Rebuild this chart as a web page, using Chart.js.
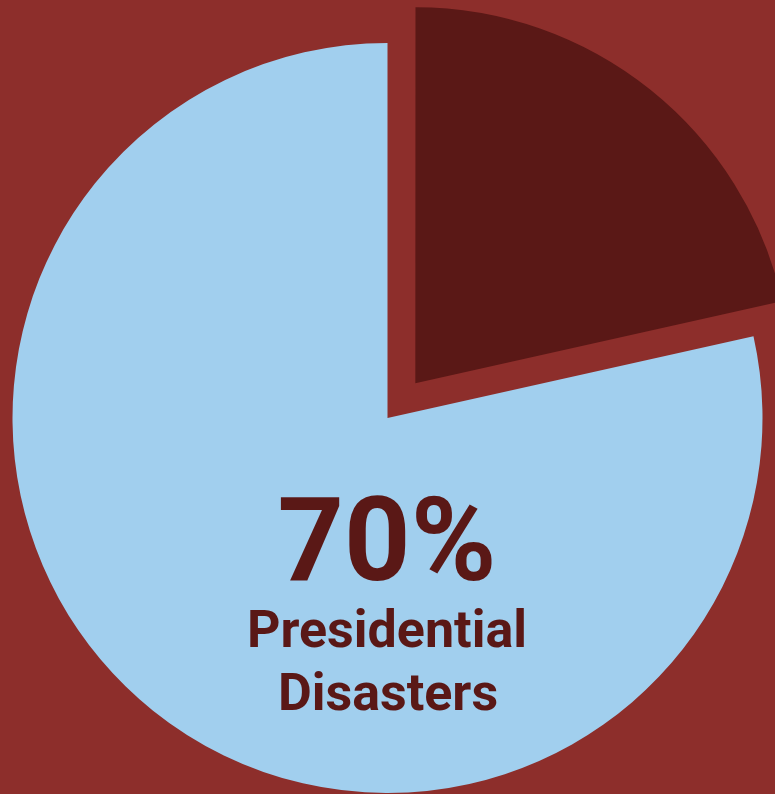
<!DOCTYPE html>
<html>
<head>
<meta charset="utf-8">
<title>Presidential Disasters</title>
<script src="https://cdn.jsdelivr.net/npm/chart.js@4.4.1/dist/chart.umd.min.js"></script>
<style>
  html, body {
    margin: 0;
    padding: 0;
    background: #8d2e2b;
  }
  #wrap {
    width: 775px;
    height: 794px;
    overflow: hidden;
  }
</style>
</head>
<body>
<div id="wrap">
  <canvas id="pieChart" width="775" height="794"></canvas>
</div>
<script>
// Data (slices start at 12 o'clock, clockwise)
const categories = ["Other", "Presidential Disasters"];
const shares = [21.5, 78.5];
const sliceColors = ["#5a1816", "#a1cfee"];
const sliceOffsets = [178, 0];

const bigLabel = "70%";
const subLabel = ["Presidential", "Disasters"];

// Centre text drawn on top of the pie
const centerText = {
  id: "centerText",
  afterDraw(chart) {
    const ctx = chart.ctx;
    ctx.save();
    ctx.fillStyle = "#5a1816";
    ctx.textAlign = "center";
    ctx.textBaseline = "alphabetic";
    ctx.font = "bold 116px Roboto";
    ctx.fillText(bigLabel, 387, 580);
    ctx.font = "bold 52px Roboto";
    ctx.fillText(subLabel[0], 387, 647);
    ctx.fillText(subLabel[1], 388, 710);
    ctx.restore();
  },
};

function initPieChart() {
  const canvas = document.getElementById("pieChart");
  return new Chart(canvas.getContext("2d"), {
    type: "pie",
    data: {
      labels: categories,
      datasets: [
        {
          data: shares,
          backgroundColor: sliceColors,
          borderWidth: 0,
          offset: sliceOffsets,
          hoverOffset: 0,
          radius: 375,
          clip: false,
        },
      ],
    },
    options: {
      responsive: false,
      animation: false,
      events: [],
      layout: { padding: { top: 42, bottom: 0, left: 0, right: 0 } },
      plugins: {
        legend: { display: false },
        tooltip: { enabled: false },
      },
    },
    plugins: [centerText],
  });
}

document.addEventListener("DOMContentLoaded", initPieChart);
</script>
</body>
</html>
